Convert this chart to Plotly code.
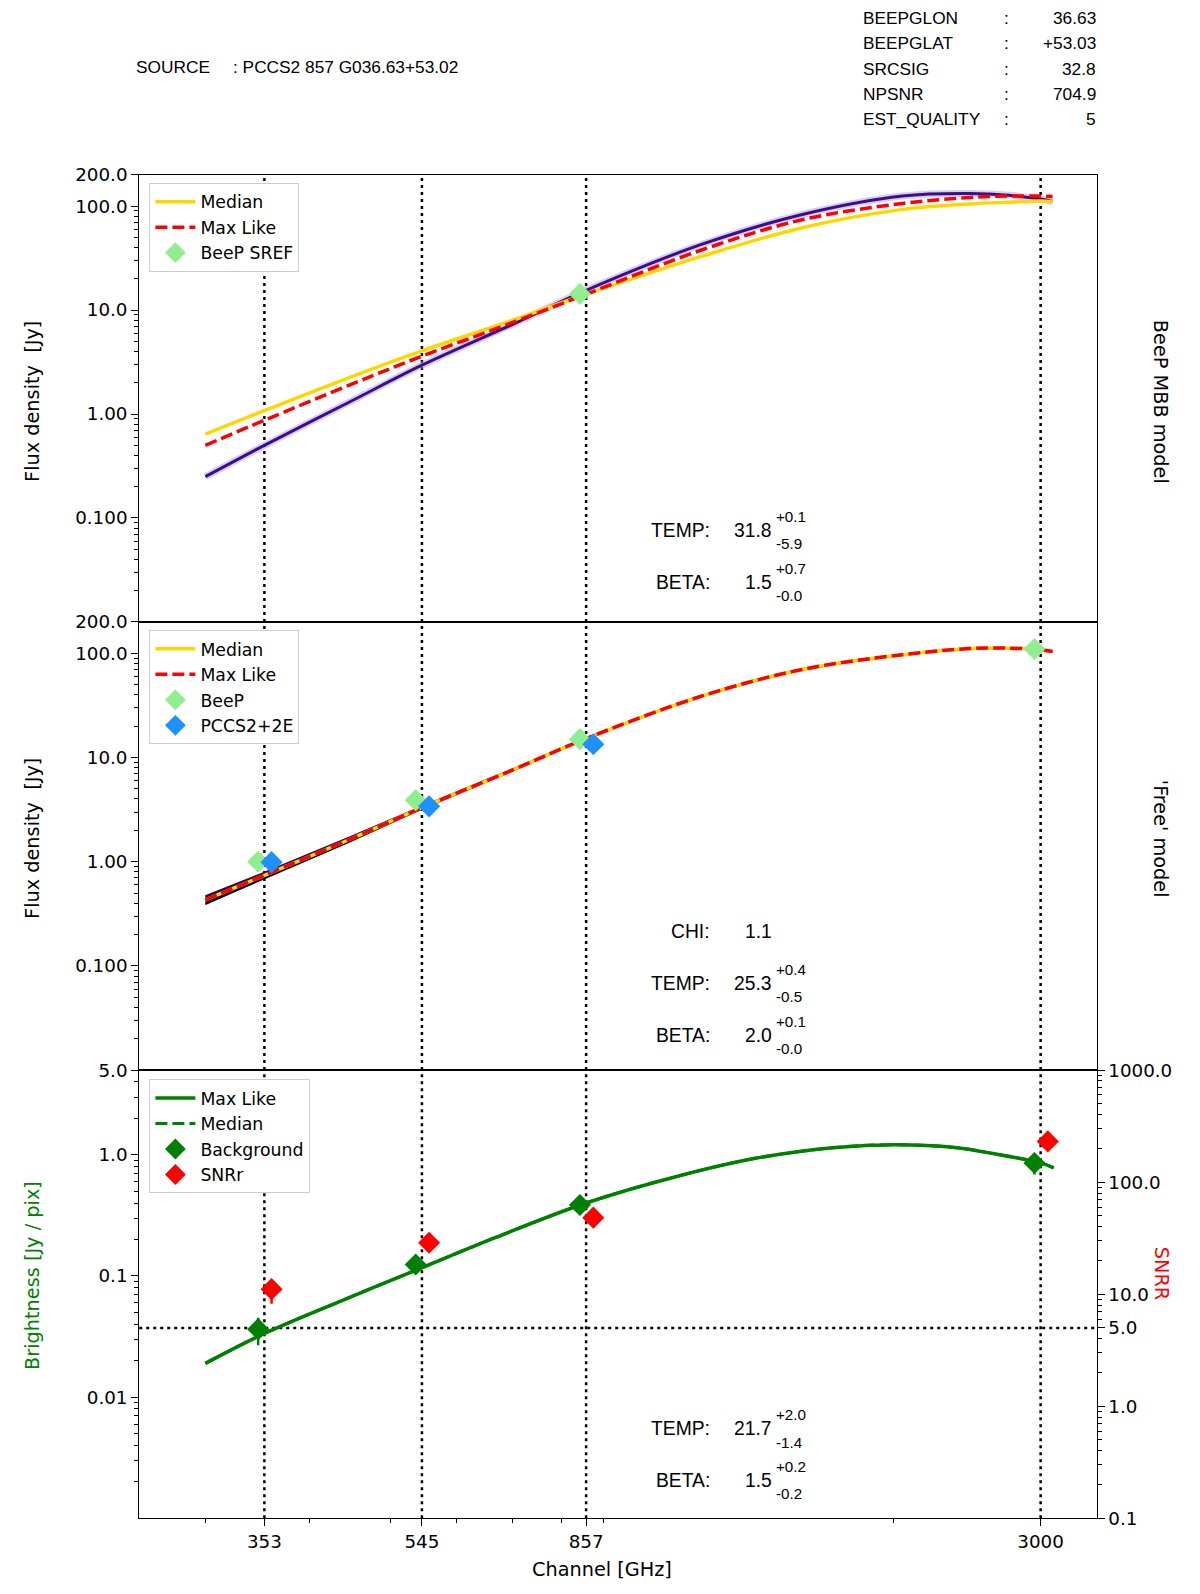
import math
import plotly.graph_objects as go

# channels (GHz) and model grid
channels = [353, 545, 857, 3000]
nu_model = [300, 353, 450, 545, 700, 857, 1180, 1555, 2050, 2466, 2750, 3000, 3100]

# panel 1 - BeeP MBB model (Jy)
mbb_median = [0.64, 1.08, 2.3, 4.05, 8.0, 14.2, 33, 62, 93, 105, 109, 112, 110]
mbb_maxlike = [0.50, 0.87, 1.95, 3.6, 7.6, 14.2, 38, 74, 106, 121, 125, 125, 124]
mbb_samples = [0.25, 0.50, 1.35, 2.95, 7.3, 15.5, 43, 83, 125, 132, 127, 117, 111]
sref_nu = [857]
sref_flux = [14.3]

# panel 2 - 'Free' model (Jy)
free_median = [0.43, 0.74, 1.68, 3.3, 7.6, 15.2, 39, 70, 97, 111, 112, 108, 104]
free_maxlike = [0.43, 0.74, 1.68, 3.3, 7.6, 15.2, 39, 70, 97, 111, 112, 108, 104]
free_band_lo = [0.39, 0.69, 1.60, 3.2, 7.45, 15.0, 38.5, 69, 96, 110, 111, 107, 103]
free_band_hi = [0.47, 0.79, 1.77, 3.4, 7.75, 15.4, 39.5, 71, 98, 112, 113, 109, 105]
beep_flux = [1.0, 3.9, 15.0, 110]
pccs_nu = [353, 545, 857]
pccs_flux = [0.99, 3.4, 13.4]

# panel 3 - background (Jy/pix) and SNRr
nu_bg = [300, 353, 438, 545, 668, 857, 1103, 1372, 1706, 2010, 2366, 2640, 3000, 3110]
bg_maxlike = [0.019, 0.0335, 0.063, 0.117, 0.208, 0.40, 0.666, 0.94, 1.15, 1.21, 1.15, 1.02, 0.857, 0.78]
bg_median = [0.019, 0.0335, 0.063, 0.117, 0.208, 0.40, 0.666, 0.94, 1.15, 1.21, 1.15, 1.02, 0.857, 0.78]
bg_points = [0.0364, 0.1245, 0.385, 0.857]
bg_err_plus = [0.0088, 0.005, 0.015, 0.11]
bg_err_minus = [0.0096, 0.005, 0.015, 0.17]
snr_points = [11.1, 28.8, 48.2, 231]
snr_err_plus = [0.5, 0.8, 1.2, 5]
snr_err_minus = [2.9, 0.8, 1.2, 5]
snr_limit = 5

GOLD = "#FFD700"
RED = "#FF0000"
LGREEN = "#90EE90"
BLUE = "#1E90FF"
GREEN = "#008000"
PURPLE = "#3b0f8c"

# the page shows the figure 8px in (body margin) and the snapshot comes out ~0.984x,
# so layout positions below are given in reference pixels and converted here
S = 0.984
OFF = 8
W, H = 1203, 1604


def px_x(v):
    return (v / S - OFF) / W


def px_y(v):
    return 1 - (v / S - OFF) / H


def fs(v):
    return round(v / S, 1)


TICKFONT = dict(family="DejaVu Sans", size=fs(18), color="black")

left_shift = lambda xs: [v * 0.983 for v in xs]
right_shift = lambda xs: [v * 1.02 for v in xs]

fig = go.Figure()

# ---- panel 1
fig.add_trace(go.Scatter(x=nu_model, y=mbb_samples, mode="lines", line=dict(color="#b89fdc", width=7),
                         opacity=0.5, showlegend=False, line_shape="spline", xaxis="x", yaxis="y"))
fig.add_trace(go.Scatter(x=nu_model, y=mbb_samples, mode="lines", line=dict(color=PURPLE, width=3),
                         showlegend=False, line_shape="spline", xaxis="x", yaxis="y"))
fig.add_trace(go.Scatter(x=nu_model, y=mbb_median, mode="lines", name="Median", line=dict(color=GOLD, width=3.5),
                         line_shape="spline", legend="legend", xaxis="x", yaxis="y"))
fig.add_trace(go.Scatter(x=nu_model, y=mbb_maxlike, mode="lines", name="Max Like",
                         line=dict(color=RED, width=3.5, dash="12px,5px"),
                         line_shape="spline", legend="legend", xaxis="x", yaxis="y"))
fig.add_trace(go.Scatter(x=left_shift(sref_nu), y=sref_flux, mode="markers", name="BeeP SREF",
                         marker=dict(symbol="diamond", size=17, color=LGREEN),
                         legend="legend", xaxis="x", yaxis="y"))

# ---- panel 2
fig.add_trace(go.Scatter(x=nu_model, y=free_band_lo, mode="lines", line=dict(color="black", width=1.5),
                         showlegend=False, line_shape="spline", xaxis="x2", yaxis="y2"))
fig.add_trace(go.Scatter(x=nu_model, y=free_band_hi, mode="lines", line=dict(color="#2a0a5a", width=1.5),
                         fill="tonexty", fillcolor="#1a0a30", showlegend=False, line_shape="spline",
                         xaxis="x2", yaxis="y2"))
fig.add_trace(go.Scatter(x=nu_model, y=free_median, mode="lines", name="Median", line=dict(color=GOLD, width=3.5),
                         line_shape="spline", legend="legend2", xaxis="x2", yaxis="y2"))
fig.add_trace(go.Scatter(x=nu_model, y=free_maxlike, mode="lines", name="Max Like",
                         line=dict(color=RED, width=3.5, dash="12px,5px"),
                         line_shape="spline", legend="legend2", xaxis="x2", yaxis="y2"))
fig.add_trace(go.Scatter(x=left_shift(channels), y=beep_flux, mode="markers", name="BeeP",
                         marker=dict(symbol="diamond", size=17, color=LGREEN),
                         legend="legend2", xaxis="x2", yaxis="y2"))
fig.add_trace(go.Scatter(x=right_shift(pccs_nu), y=pccs_flux, mode="markers", name="PCCS2+2E",
                         marker=dict(symbol="diamond", size=17, color=BLUE),
                         legend="legend2", xaxis="x2", yaxis="y2"))

# ---- panel 3
fig.add_trace(go.Scatter(x=nu_bg, y=bg_maxlike, mode="lines", name="Max Like", line=dict(color=GREEN, width=3.5),
                         line_shape="spline", legend="legend3", xaxis="x3", yaxis="y3"))
fig.add_trace(go.Scatter(x=nu_bg, y=bg_median, mode="lines", name="Median",
                         line=dict(color=GREEN, width=3, dash="12px,5px"),
                         line_shape="spline", legend="legend3", xaxis="x3", yaxis="y3"))
fig.add_trace(go.Scatter(x=left_shift(channels), y=bg_points, mode="markers", name="Background",
                         marker=dict(symbol="diamond", size=17, color=GREEN),
                         error_y=dict(type="data", symmetric=False, array=bg_err_plus, arrayminus=bg_err_minus,
                                      color=GREEN, thickness=2.5, width=0),
                         legend="legend3", xaxis="x3", yaxis="y3"))
fig.add_trace(go.Scatter(x=right_shift(channels), y=snr_points, mode="markers", name="SNRr",
                         marker=dict(symbol="diamond", size=17, color=RED),
                         error_y=dict(type="data", symmetric=False, array=snr_err_plus, arrayminus=snr_err_minus,
                                      color=RED, thickness=2.5, width=0),
                         legend="legend3", xaxis="x3", yaxis="y4"))

# ---- dotted guide lines (data values on the log axes)
dotted = dict(color="black", width=2.5, dash="3px,4px")
shapes = []
for xa, ya in [("x", "y"), ("x2", "y2"), ("x3", "y3")]:
    for c in channels:
        shapes.append(dict(type="line", xref=xa, yref=f"{ya} domain", x0=c, x1=c,
                           y0=0, y1=1, line=dotted, layer="below"))
shapes.append(dict(type="line", xref="x3 domain", yref="y4", x0=0, x1=1,
                   y0=snr_limit, y1=snr_limit, line=dotted, layer="below"))

# ---- axes
x_dom = [px_x(137), px_x(1079)]
x_range = [math.log10(250), math.log10(3500)]
dom1 = [px_y(612), px_y(172)]
dom2 = [px_y(1053), px_y(612)]
dom3 = [px_y(1494), px_y(1053)]


def minor_vals(lo, hi):
    return [m * 10 ** e for e in range(lo, hi) for m in range(2, 10)]


axis_common = dict(showgrid=False, zeroline=False, showline=True, linecolor="black", linewidth=1.1,
                   tickfont=TICKFONT, ticklen=7, tickcolor="black", automargin=False)

flux_ticks = [200, 100, 10, 1, 0.1]
flux_labels = ["200.0", "100.0", "10.0", "1.00", "0.100"]
bg_ticks = [5, 1, 0.1, 0.01]
bg_labels = ["5.0", "1.0", "0.1", "0.01"]
snr_ticks = [1000, 100, 10, 5, 1, 0.1]
snr_labels = ["1000.0", "100.0", "10.0", "5.0", "1.0", "0.1"]
x_minor = [300, 400, 500, 600, 700, 800, 900, 2000]
minor_style = dict(ticks="outside", ticklen=4, tickcolor="black", showgrid=False)

fig.update_layout(
    template="none",
    xaxis=dict(axis_common, type="log", domain=x_dom, range=x_range, anchor="y", mirror=True,
               showticklabels=False, ticks=""),
    xaxis2=dict(axis_common, type="log", domain=x_dom, range=x_range, anchor="y2", mirror=True,
                showticklabels=False, ticks=""),
    xaxis3=dict(axis_common, type="log", domain=x_dom, range=x_range, anchor="y3", mirror=True,
                ticks="outside", tickvals=channels, ticktext=[str(c) for c in channels],
                minor=dict(minor_style, tickvals=x_minor)),
    yaxis=dict(axis_common, type="log", domain=dom1, range=[-2, math.log10(200)], anchor="x", mirror=True,
               ticks="outside", tickvals=flux_ticks, ticktext=flux_labels,
               minor=dict(minor_style, tickvals=minor_vals(-2, 3))),
    yaxis2=dict(axis_common, type="log", domain=dom2, range=[-2, math.log10(200)], anchor="x2", mirror=True,
                ticks="outside", tickvals=flux_ticks, ticktext=flux_labels,
                minor=dict(minor_style, tickvals=minor_vals(-2, 3))),
    yaxis3=dict(axis_common, type="log", domain=dom3, range=[-3, math.log10(5)], anchor="x3", mirror=True,
                ticks="outside", tickvals=bg_ticks, ticktext=bg_labels,
                minor=dict(minor_style, tickvals=minor_vals(-3, 1))),
    yaxis4=dict(axis_common, type="log", range=[-1, 3], anchor="x3", overlaying="y3", side="right",
                ticks="outside", tickvals=snr_ticks, ticktext=snr_labels,
                minor=dict(minor_style, tickvals=minor_vals(-1, 3))),
    shapes=shapes,
)

legend_style = dict(bgcolor="white", bordercolor="#cccccc", borderwidth=1, xanchor="left", yanchor="top",
                    font=dict(family="DejaVu Sans", size=fs(17), color="black"), traceorder="normal",
                    tracegroupgap=0, itemwidth=40)
fig.update_layout(
    legend=dict(legend_style, x=px_x(147), y=px_y(180)),
    legend2=dict(legend_style, x=px_x(147), y=px_y(620)),
    legend3=dict(legend_style, x=px_x(147), y=px_y(1062)),
)

# ---- text
ann = []
TXT = "Liberation Sans"
NARROW = "Liberation Sans Narrow, Liberation Sans"


def text(x, y, s, size=19, anchor="left", family=TXT, color="black", angle=0):
    ann.append(dict(x=px_x(x), y=px_y(y), xref="paper", yref="paper", text=s, showarrow=False,
                    xanchor=anchor, yanchor="middle", textangle=angle, borderpad=0,
                    font=dict(family=family, size=fs(size), color=color)))


# header
text(133, 66, "SOURCE", 17, family=NARROW)
text(228, 66, ": PCCS2 857 G036.63+53.02", 17, family=NARROW)
header_keys = ["BEEPGLON", "BEEPGLAT", "SRCSIG", "NPSNR", "EST_QUALITY"]
header_vals = ["36.63", "+53.03", "32.8", "704.9", "5"]
for i, (k, v) in enumerate(zip(header_keys, header_vals)):
    yy = 18 + i * 24.75
    text(848, yy, k, 17, family=NARROW)
    text(987, yy, ":", 17, family=NARROW)
    text(1079, yy, v, 17, anchor="right", family=NARROW)


def param(y, label, value, up=None, down=None):
    text(700, y, label, 19, anchor="right")
    text(761, y, value, 19, anchor="right")
    if up is not None:
        text(763, y - 14, up, 15)
        text(763, y + 13, down, 15)


param(522, "TEMP:", "31.8", "+0.1", "-5.9")
param(573, "BETA:", "1.5", "+0.7", "-0.0")
param(917, "CHI:", "1.1")
param(968, "TEMP:", "25.3", "+0.4", "-0.5")
param(1019, "BETA:", "2.0", "+0.1", "-0.0")
param(1406, "TEMP:", "21.7", "+2.0", "-1.4")
param(1457, "BETA:", "1.5", "+0.2", "-0.2")

DV = "DejaVu Sans"
text(592, 1544, "Channel [GHz]", 19, anchor="center", family=DV)
text(32, 395, "Flux density  [Jy]", 19, anchor="center", family=DV, angle=-90)
text(32, 825, "Flux density  [Jy]", 19, anchor="center", family=DV, angle=-90)
text(32, 1255, "Brightness [Jy / pix]", 19, anchor="center", family=DV, color=GREEN, angle=-90)
text(1142, 395, "BeeP MBB model", 19, anchor="center", family=DV, angle=90)
text(1142, 825, "'Free' model", 19, anchor="center", family=DV, angle=90)
text(1143, 1253, "SNRR", 19, anchor="center", family=DV, color=RED, angle=90)

fig.update_layout(
    annotations=ann,
    width=W,
    height=H,
    margin=dict(l=0, r=0, t=0, b=0, pad=0),
    paper_bgcolor="white",
    plot_bgcolor="white",
    showlegend=True,
)

fig.write_html("out.html")
